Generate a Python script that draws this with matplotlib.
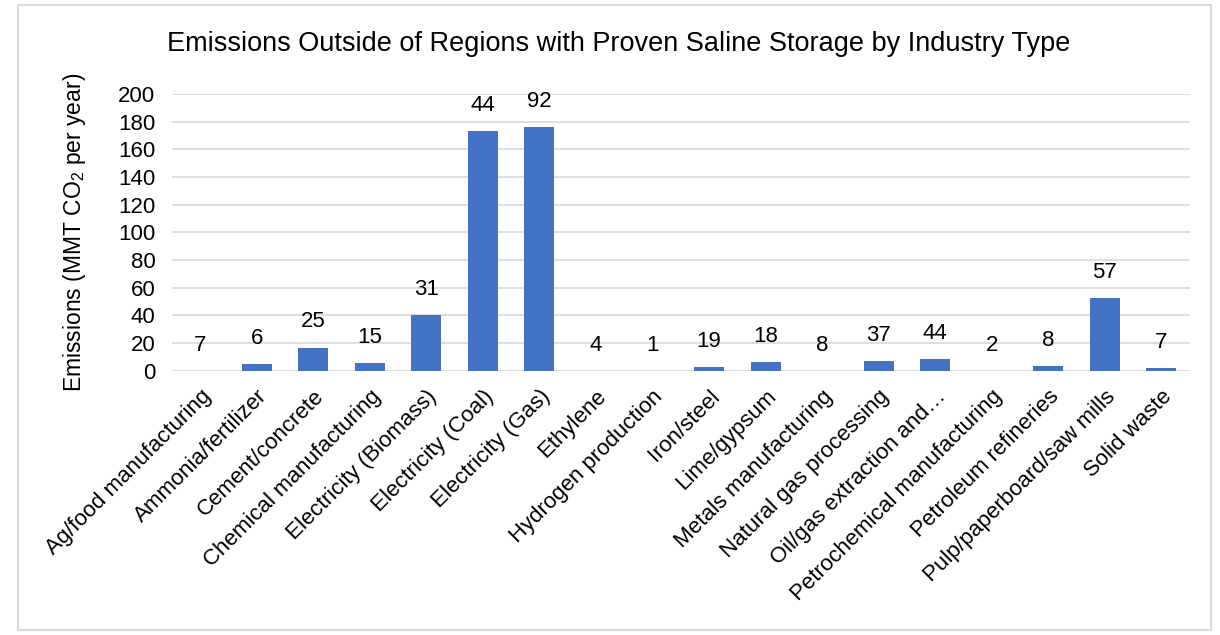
import matplotlib.pyplot as plt
from matplotlib.patches import Rectangle

plt.rcParams["font.family"] = ["Liberation Sans", "DejaVu Sans"]
plt.rcParams["mathtext.fontset"] = "custom"
plt.rcParams["mathtext.rm"] = "Liberation Sans"
plt.rcParams["mathtext.it"] = "Liberation Sans:italic"

industries = [
    "Ag/food manufacturing", "Ammonia/fertilizer", "Cement/concrete",
    "Chemical manufacturing", "Electricity (Biomass)", "Electricity (Coal)",
    "Electricity (Gas)", "Ethylene", "Hydrogen production", "Iron/steel",
    "Lime/gypsum", "Metals manufacturing", "Natural gas processing",
    "Oil/gas extraction and…", "Petrochemical manufacturing",
    "Petroleum refineries", "Pulp/paperboard/saw mills", "Solid waste",
]
emissions = [0, 4.8, 16.8, 5.5, 40.4, 173, 176, 0, 0, 2.7,
             6.3, 0, 7.0, 8.4, 0, 3.4, 52.7, 1.9]
facilities = [7, 6, 25, 15, 31, 44, 92, 4, 1, 19, 18, 8, 37, 44, 2, 8, 57, 7]

fig = plt.figure(figsize=(12.2, 6.35), dpi=100)
ax = fig.add_axes([0.141, 0.416, 0.834, 0.436])

x = range(len(industries))
bars = ax.bar(x, emissions, width=0.53, color="#4472C4", zorder=3)
for b, n in zip(bars, facilities):
    ax.annotate(str(n), (b.get_x() + b.get_width() / 2, b.get_height()),
                xytext=(0, 11), textcoords="offset points",
                ha="center", va="bottom", fontsize=16, color="#000000")

ax.set_xlim(-0.5, len(industries) - 0.5)
ax.set_ylim(0, 200)
ax.set_yticks(range(0, 201, 20))
ax.grid(axis="y", color="#d9d9d9", linewidth=1.2, zorder=0)
for s in ax.spines.values():
    s.set_visible(False)
ax.tick_params(axis="both", length=0, labelsize=16)
ax.tick_params(axis="y", pad=12)
ax.tick_params(axis="x", pad=11)
ax.set_xticks(list(x))
ax.set_xticklabels(industries, rotation=45, ha="right", rotation_mode="anchor")
ax.set_ylabel("Emissions (MMT CO$_2$ per year)", fontsize=16.5, labelpad=22)

fig.text(0.507, 0.930, "Emissions Outside of Regions with Proven Saline Storage by Industry Type",
         ha="center", va="center", fontsize=19.5)

fig.patches.append(Rectangle((0.015, 0.008), 0.978, 0.984, transform=fig.transFigure,
                             fill=False, edgecolor="#d9d9d9", linewidth=1.5))

fig.savefig("out.png", dpi=100)
